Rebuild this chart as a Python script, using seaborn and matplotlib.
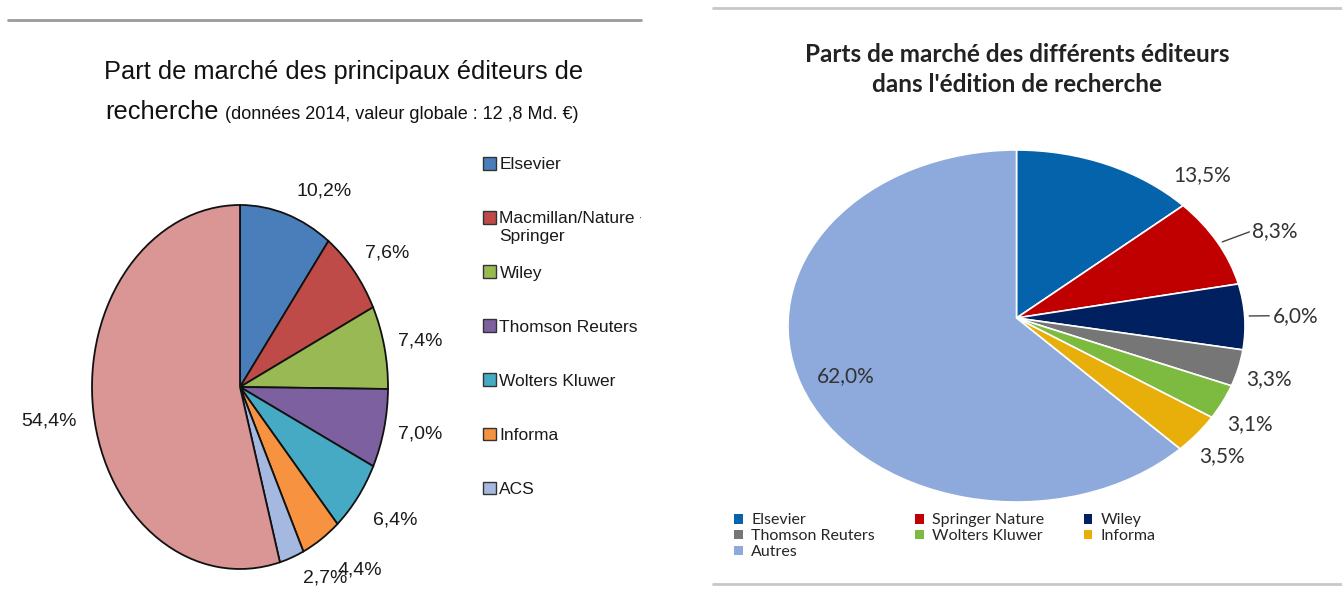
import numpy as np
import matplotlib
matplotlib.use("Agg")
import matplotlib.pyplot as plt
import seaborn as sns
from matplotlib.patches import Patch
from matplotlib.transforms import Bbox, TransformedBbox, Transform

# left chart (2014 data)
left_names = ["Elsevier", "Macmillan/Nature +", "Wiley", "Thomson Reuters",
              "Wolters Kluwer", "Informa", "ACS", "Autres"]
left_values = [10.2, 7.6, 7.4, 7.0, 6.4, 4.4, 2.7, 54.4]
left_colors = ["#4A7EBB", "#BE4B48", "#98B954", "#7D60A0", "#46AAC5", "#F69240", "#A5B8E0", "#D99694"]

# right chart
right_names = ["Elsevier", "Springer Nature", "Wiley", "Thomson Reuters",
               "Wolters Kluwer", "Informa", "Autres"]
right_values = [13.5, 8.3, 6.0, 3.3, 3.1, 3.5, 62.0]
right_colors = ["#0563AC", "#C00000", "#002060", "#767676", "#7CBB3F", "#E8AE0A", "#8EA9DB"]

W, H = 1342, 590
sns.set_theme(style="white")
plt.rcParams["font.family"] = ["Liberation Sans", "DejaVu Sans"]

ARIAL = ["Liberation Sans", "DejaVu Sans"]
CAL = ["Lato", "DejaVu Sans"]


class Tilt(Transform):
    """simple perspective so the pie looks tilted (excel 3d style)"""
    input_dims = 2
    output_dims = 2
    is_separable = False

    def __init__(self, k):
        super().__init__()
        self.k = k

    def transform_non_affine(self, values):
        v = np.asarray(values, dtype=float)
        d = 1 + self.k * v[:, 1]
        return np.column_stack([v[:, 0] / d, v[:, 1] / d])


def fmt(v):
    return f"{v:.1f}".replace(".", ",") + "%"


def px_axes(fig, x0, y0, x1, y1):
    return fig.add_axes([x0 / W, 1 - y1 / H, (x1 - x0) / W, (y1 - y0) / H])


fig = plt.figure(figsize=(W / 100, H / 100), dpi=100)
fig.patch.set_facecolor("white")

# separator lines
fig.add_artist(plt.Line2D([8 / W, 641 / W], [1 - 20 / H] * 2, color="#9a9a9a", lw=2))
fig.add_artist(plt.Line2D([713 / W, 1], [1 - 8 / H] * 2, color="#c8c8c8", lw=2))
fig.add_artist(plt.Line2D([713 / W, 1], [1 - 584 / H] * 2, color="#c8c8c8", lw=2))

# ---------- left pie ----------
axl = px_axes(fig, 92, 205, 388, 569)
wl, _ = axl.pie(left_values, colors=left_colors, startangle=90, counterclock=False,
                wedgeprops=dict(edgecolor="#111111", linewidth=1.3))
axl.set_aspect("auto")
axl.set_xlim(-1, 1)
axl.set_ylim(-1, 1)
axl.axis("off")

left_r = [1.144, 1.12, 1.097, 1.099, 1.159, 1.2, 1.132, 1.116]
left_shift = [-1.3, 1.5, 0.7, -0.3, -1.7, 0, 1.7, 1.7]
for w, v, r, s in zip(wl, left_values, left_r, left_shift):
    a = np.deg2rad((w.theta1 + w.theta2) / 2 + s)
    x, y = r * np.cos(a), r * np.sin(a)
    axl.text(x, y, fmt(v), ha="left" if x > 0 else "right", va="center",
             fontsize=14, color="#1a1a1a", family=ARIAL, clip_on=False)

fig.text(344 / W, 1 - 72 / H, "Part de marché des principaux éditeurs de",
         ha="center", va="center", fontsize=18.3, color="#111111", family=ARIAL)
fig.text(105 / W, 1 - 112 / H, "recherche", ha="left", va="center",
         fontsize=18.3, color="#111111", family=ARIAL)
fig.text(225 / W, 1 - 114 / H, "(données 2014, valeur globale : 12 ,8 Md. €)",
         ha="left", va="center", fontsize=13, color="#111111", family=ARIAL)

handles = [Patch(facecolor=c, edgecolor="#333333", lw=1) for c in left_colors[:7]]
legl = fig.legend(handles, left_names[:7], loc="upper left",
                  bbox_to_anchor=(476 / W, 1 - 150 / H), frameon=False,
                  prop=dict(family=ARIAL, size=12.5), handlelength=0.75, handleheight=0.75,
                  handletextpad=0.2, labelspacing=2.23, borderaxespad=0)
clip = TransformedBbox(Bbox([[0, 0], [641 / W, 1]]), fig.transFigure)
for t in legl.get_texts():
    t.set_color("#1a1a1a")
    t.set_clip_box(clip)
    t.set_clip_on(True)

# ---------- right pie ----------
k = 0.0455
tilt = Tilt(k)
axr = px_axes(fig, 788, 150, 1245, 502)
wr, _ = axr.pie(right_values, colors=right_colors, startangle=90, counterclock=False,
                wedgeprops=dict(edgecolor="white", linewidth=1.2))
for w in wr:
    w.set_transform(tilt + axr.transData)
axr.set_aspect("auto")
axr.set_xlim(-1.001, 1.001)
axr.set_ylim(-1 / (1 - k), 1 / (1 + k))
axr.axis("off")

right_r = [1.105, 1.173, 1.123, 1.049, 1.073, 1.081, 0.807]
right_shift = [-15.8, -0.6, 0.2, -2.7, -5.3, -4.7, 2]
leader = [False, True, True, False, False, False, False]
for w, v, r, s, ld in zip(wr, right_values, right_r, right_shift, leader):
    mid = (w.theta1 + w.theta2) / 2
    a = np.deg2rad(mid + s)
    x, y = tilt.transform([[r * np.cos(a), r * np.sin(a)]])[0]
    axr.text(x, y, fmt(v), ha="left" if r > 1 else "center", va="center",
             fontsize=15, color="#333333", family=CAL, clip_on=False)
    if ld:
        seg = tilt.transform([[1.02 * np.cos(a), 1.02 * np.sin(a)],
                              [(r - 0.015) * np.cos(a), (r - 0.015) * np.sin(a)]])
        axr.plot(seg[:, 0], seg[:, 1], color="#444444", lw=1, clip_on=False)

fig.text(1017 / W, 1 - 55 / H, "Parts de marché des différents éditeurs",
         ha="center", va="center", fontsize=17.5, fontweight="bold", color="#222222", family=CAL)
fig.text(1017 / W, 1 - 84 / H, "dans l'édition de recherche",
         ha="center", va="center", fontsize=17.5, fontweight="bold", color="#222222", family=CAL)

# excel fills the legend row by row
order = [0, 3, 6, 1, 4, 2, 5]
handles = [Patch(facecolor=right_colors[i], edgecolor="none") for i in order]
legr = fig.legend(handles, [right_names[i] for i in order], loc="upper left", ncol=3,
                  bbox_to_anchor=(728 / W, 1 - 507 / H), frameon=False,
                  prop=dict(family=CAL, size=11.5), handlelength=0.55, handleheight=0.55,
                  handletextpad=0.5, labelspacing=0.12, columnspacing=2.5, borderaxespad=0)
for t in legr.get_texts():
    t.set_color("#262626")

# second line of the wrapped Macmillan entry
fig.canvas.draw()
bb = legl.get_texts()[1].get_window_extent()
x0, y0 = fig.transFigure.inverted().transform((bb.x0, bb.y0))
fig.text(x0, y0 - 3 / H, "Springer", ha="left", va="top", fontsize=12.5,
         color="#1a1a1a", family=ARIAL)

fig.savefig("out.png", dpi=100, facecolor="white")
